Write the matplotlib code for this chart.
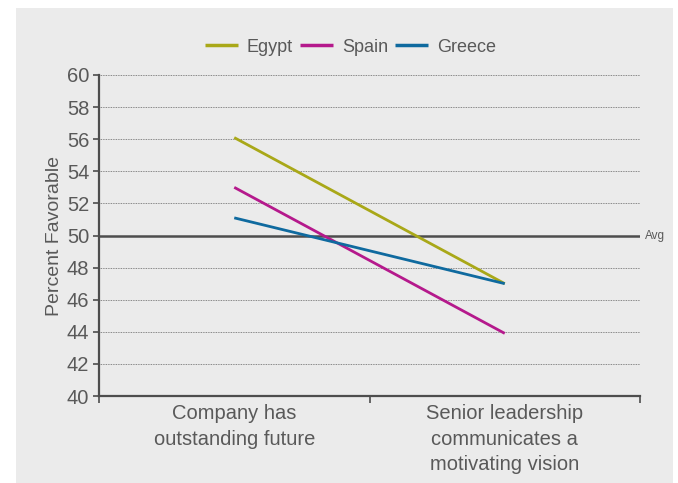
import matplotlib
matplotlib.use("Agg")
import matplotlib.pyplot as plt
from matplotlib.patches import Rectangle

categories = ["Company has\noutstanding future",
              "Senior leadership\ncommunicates a\nmotivating vision"]
countries = ["Egypt", "Spain", "Greece"]
egypt = [56.1, 47.0]
spain = [53.0, 43.9]
greece = [51.1, 47.0]
avg = 50
colors = ["#a9a818", "#b5198c", "#0f6a9f"]

plt.rcParams['font.family'] = ['Liberation Sans', 'DejaVu Sans']
txt = "#595959"
bg = "#ebebeb"

fig = plt.figure(figsize=(6.78, 4.83), dpi=100, facecolor="white")
fig.patches.append(Rectangle((16 / 678, 0), 657 / 678, 475 / 483,
                             transform=fig.transFigure, facecolor=bg,
                             edgecolor="none", zorder=-10))
ax = fig.add_axes([99 / 678, 1 - 396 / 483, 541 / 678, 321 / 483])
ax.set_facecolor(bg)

x = list(range(len(categories)))
for name, vals, c in zip(countries, [egypt, spain, greece], colors):
    ax.plot(x, vals, color=c, lw=2.0, label=name, zorder=3, solid_capstyle="butt")

ax.set_ylim(40, 60)
ax.set_xlim(-0.5, 1.5)
ax.set_yticks(range(40, 61, 2))
ax.grid(axis="y", color="#666666", linestyle=(0, (1, 1)), lw=0.6)
ax.set_axisbelow(True)
ax.axhline(avg, color="#4d4d4d", lw=1.8, zorder=2)
ax.text(1.52, avg, "Avg", va="center", ha="left", fontsize=8.5, color=txt)

ax.set_xticks(x)
ax.set_xticklabels(categories, fontsize=14.5, color=txt, linespacing=1.42)
ax.tick_params(axis="x", which="major", length=0, pad=6)
ax.set_xticks([-0.5, 0.5, 1.5], minor=True)
ax.tick_params(axis="x", which="minor", length=5, width=1.2, color="#4d4d4d")
ax.tick_params(axis="y", length=4, width=1.2, color="#4d4d4d", labelsize=14.5,
               labelcolor=txt, pad=3)
ax.set_ylabel("Percent Favorable", fontsize=14, color=txt, labelpad=3)

for s in ["top", "right"]:
    ax.spines[s].set_visible(False)
for s in ["left", "bottom"]:
    ax.spines[s].set_color("#4d4d4d")
    ax.spines[s].set_linewidth(1.6)

leg = ax.legend(loc="lower center", bbox_to_anchor=(0.465, 1.01), ncol=3,
                frameon=False, fontsize=13, handlelength=1.8, handletextpad=0.5,
                columnspacing=0.4, labelcolor=txt)
for h in leg.get_lines():
    h.set_linewidth(2.5)

fig.savefig("out.png", dpi=100, facecolor="white")
